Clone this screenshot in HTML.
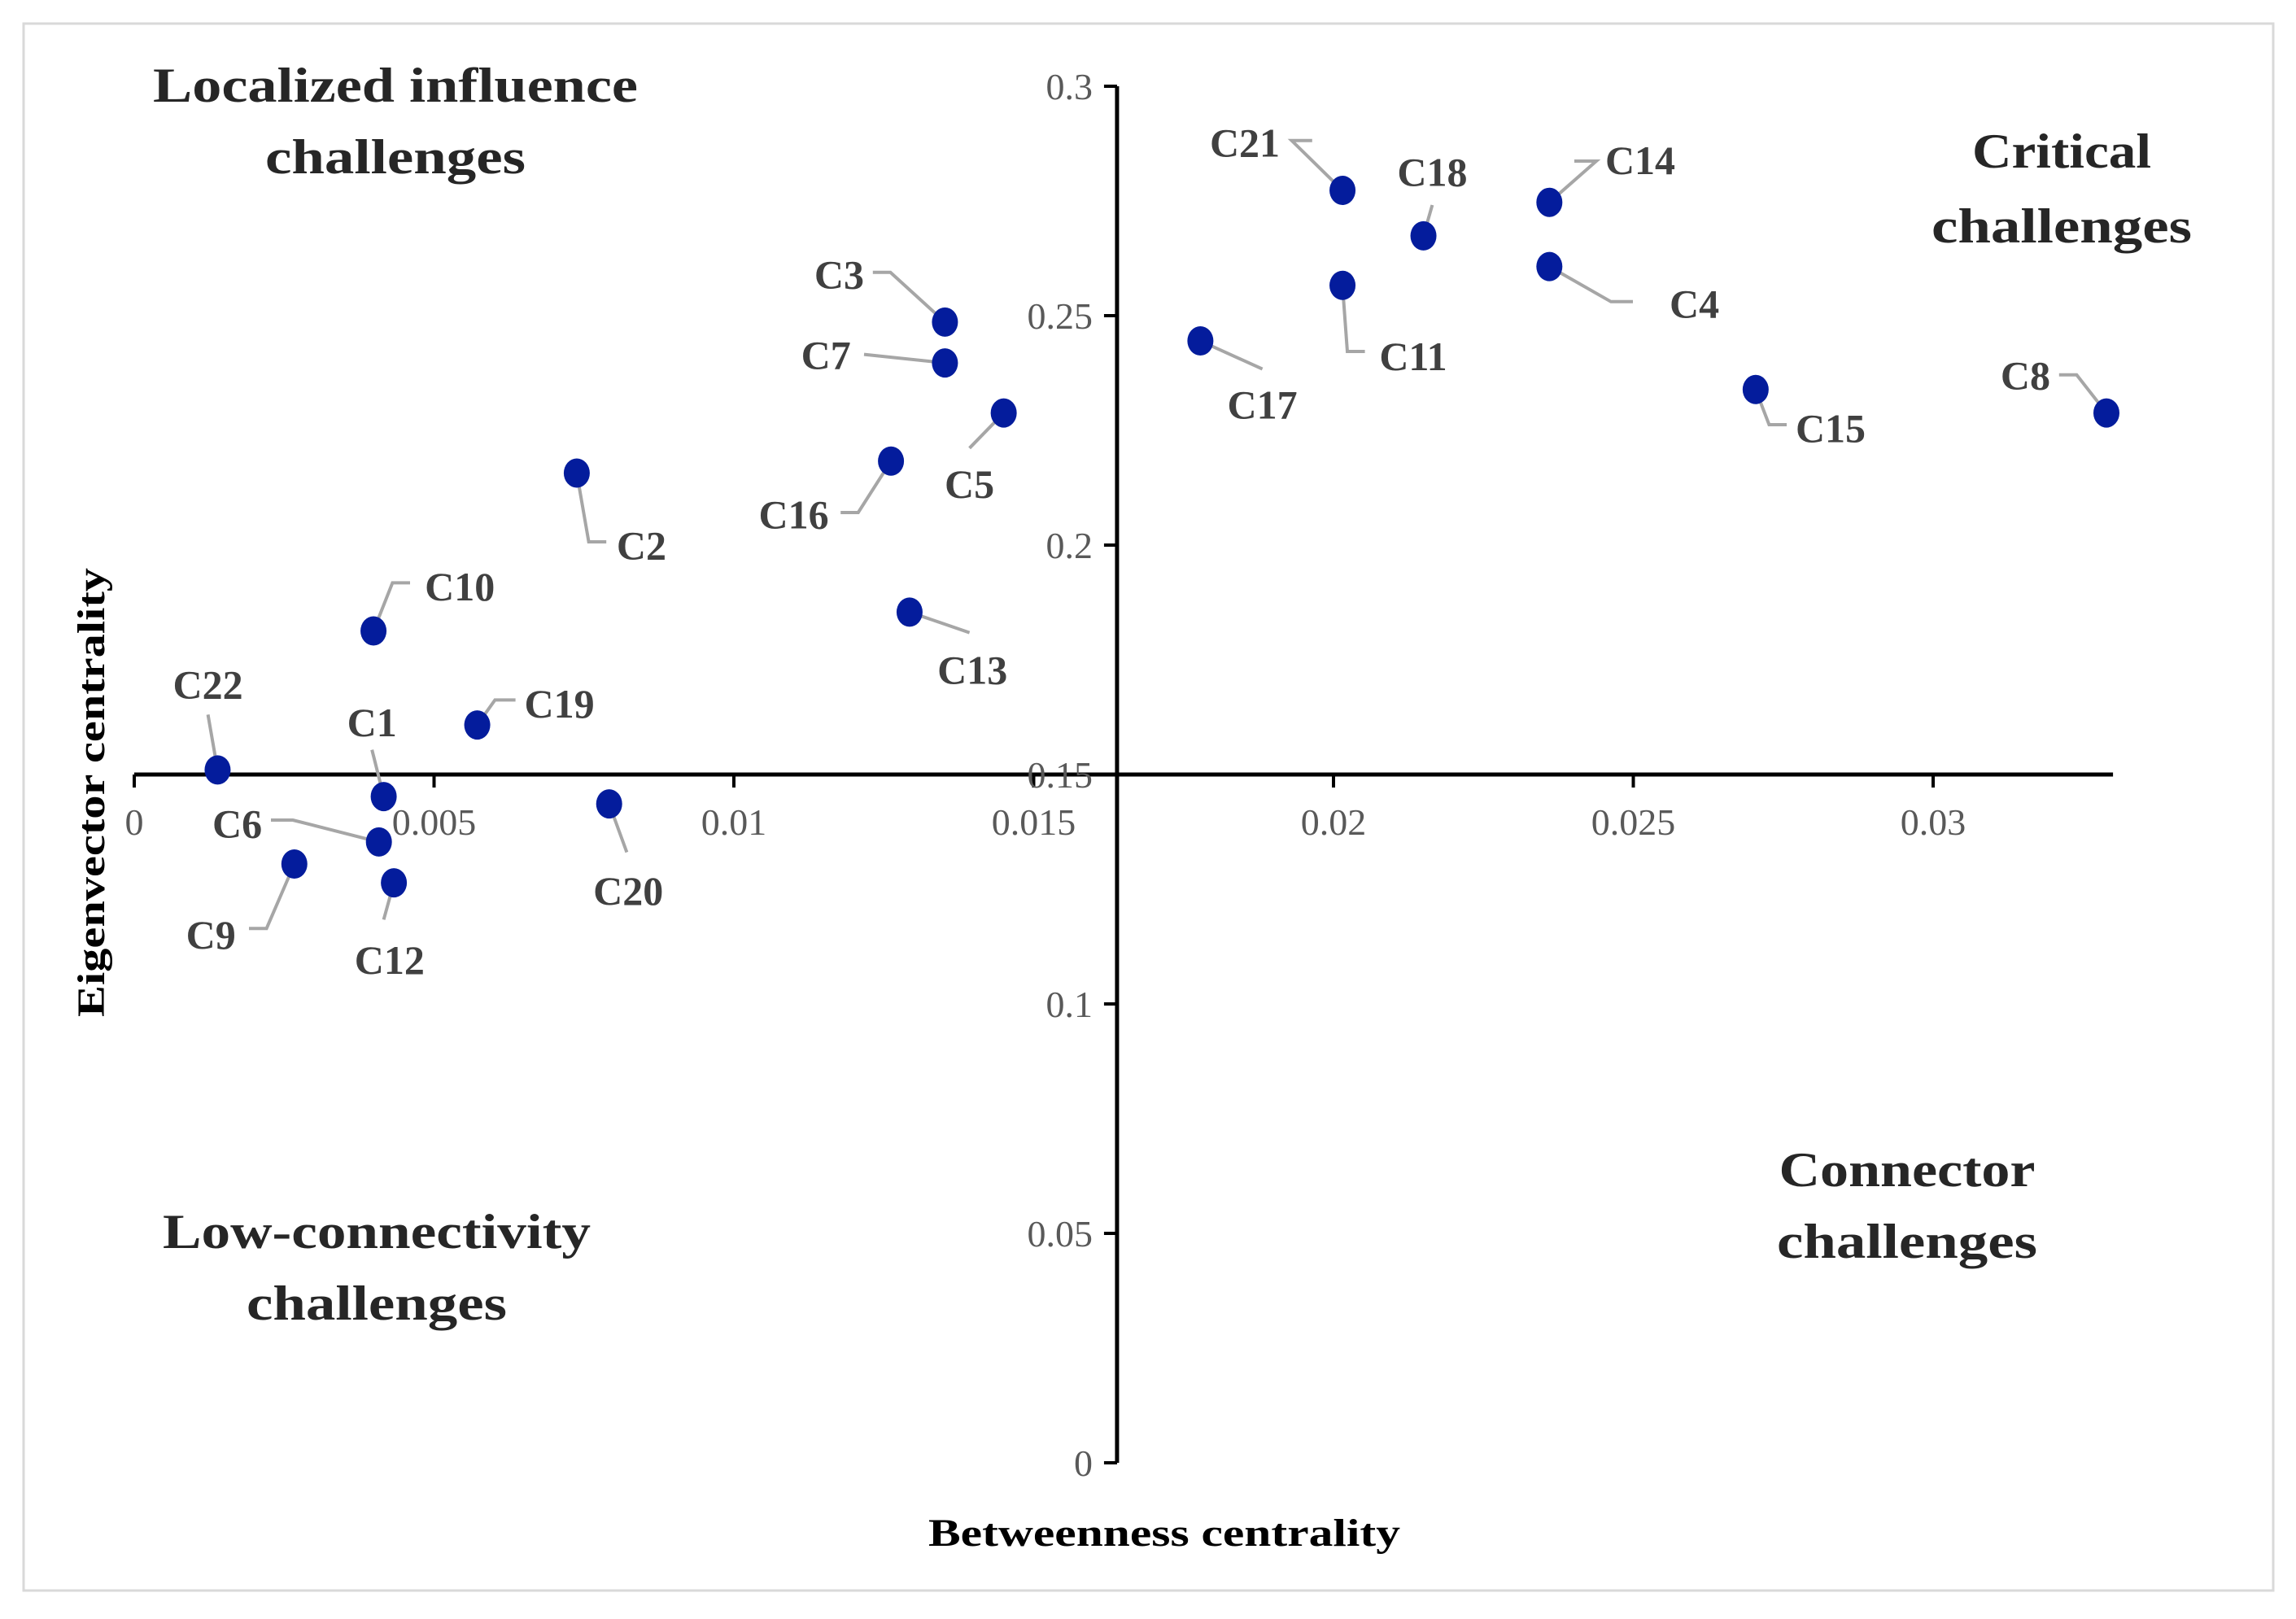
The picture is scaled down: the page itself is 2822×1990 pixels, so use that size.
<!DOCTYPE html>
<html><head><meta charset="utf-8"><style>
html,body{margin:0;padding:0;background:#fff}
svg{display:block}
text{font-family:"Liberation Serif",serif}
</style></head><body>
<svg id="chart" width="2822" height="1990" viewBox="0 0 2822 1990" xmlns="http://www.w3.org/2000/svg">
<rect x="29" y="29" width="2765" height="1926" fill="#fff" stroke="#d9d9d9" stroke-width="3"/>
<g id="axes"></g>
<g id="leaders"></g>
<g id="points"></g>
<g id="labels"></g>
<g font-weight="bold" font-size="60" fill="#262626" text-anchor="middle" lengthAdjust="spacingAndGlyphs">
<text x="486" y="125" textLength="596" lengthAdjust="spacingAndGlyphs">Localized influence</text>
<text x="486" y="213" textLength="320" lengthAdjust="spacingAndGlyphs">challenges</text>
<text x="2534" y="206" textLength="220" lengthAdjust="spacingAndGlyphs">Critical</text>
<text x="2534" y="298" textLength="320" lengthAdjust="spacingAndGlyphs">challenges</text>
<text x="2344" y="1458" textLength="315" lengthAdjust="spacingAndGlyphs">Connector</text>
<text x="2344" y="1546" textLength="320" lengthAdjust="spacingAndGlyphs">challenges</text>
<text x="463" y="1534" textLength="526" lengthAdjust="spacingAndGlyphs">Low-connectivity</text>
<text x="463" y="1622" textLength="320" lengthAdjust="spacingAndGlyphs">challenges</text>
</g>
<text x="1431" y="1900" text-anchor="middle" font-weight="bold" font-size="48" fill="#000" textLength="580" lengthAdjust="spacingAndGlyphs">Betweenness centrality</text>
<text transform="translate(128,974) rotate(-90)" text-anchor="middle" font-weight="bold" font-size="48" fill="#000" textLength="552" lengthAdjust="spacingAndGlyphs">Eigenvector centrality</text>
</svg>
<script>
const names=["C21","C18","C14","C4","C11","C17","C15","C8","C3","C7","C5","C16","C2","C13","C10","C19","C22","C1","C20","C6","C9","C12"];
const betweenness=[0.02015,0.0215,0.0236,0.0236,0.02015,0.01778,0.02704,0.03289,0.01352,0.01352,0.0145,0.01262,0.00738,0.01293,0.00399,0.00572,0.00139,0.00416,0.00792,0.00408,0.00267,0.00433];
const eigenvector=[0.2773,0.2674,0.2747,0.2607,0.2566,0.2445,0.2339,0.2288,0.2486,0.2397,0.2288,0.2183,0.2157,0.1854,0.1813,0.1608,0.1510,0.1452,0.1436,0.1353,0.1305,0.1264];
const xTicks=[0,0.005,0.01,0.015,0.02,0.025,0.03];
const xTickLabels=["0","0.005","0.01","0.015","0.02","0.025","0.03"];
const yTicks=[0,0.05,0.1,0.15,0.2,0.25,0.3];
const yTickLabels=["0","0.05","0.1","0.15","0.2","0.25","0.3"];
const S=1.8;
const labelPos={C21:[850,98,[[882,96],[896,96]]],C18:[978,118,[[978,140]]],C14:[1120,110,[[1090,110],[1075,110]]],C4:[1157,208,[[1100,206],[1115,206]]],C11:[965,244,[[920,240],[932,240]]],C17:[862,277,[[862,252]]],C15:[1250,293,[[1208,290],[1220,290]]],C8:[1383,257,[[1418,256],[1406,256]]],C3:[573,188,[[608,186],[596,186]]],C7:[564,243,[[590,242]]],C5:[662,331,[[662,306]]],C16:[542,352,[[586,350],[574,350]]],C2:[438,373,[[402,370],[414,370]]],C13:[664,458,[[662,432]]],C10:[314,401,[[268,398],[280,398]]],C19:[382,481,[[338,478],[352,478]]],C22:[142,468,[[142,488]]],C1:[254,494,[[254,512]]],C6:[162,563,[[200,560],[185,560]]],C9:[144,639,[[182,634],[170,634]]],C12:[266,656,[[262,628]]],C20:[429,609,[[428,582]]]};
const X0=165,XPER=73700,Y0=1798,YPER=5640;
const xs=v=>X0+v*XPER, ys=v=>Y0-v*YPER;
const NS="http://www.w3.org/2000/svg";
function mk(t,a,p){const e=document.createElementNS(NS,t);for(const k in a)e.setAttribute(k,a[k]);p.appendChild(e);return e;}
const axes=document.getElementById('axes');
const xAxisY=ys(0.15), yAxisX=xs(0.01639);
let l=mk('line',{x1:xs(0),x2:xs(0.033),y1:xAxisY,y2:xAxisY,stroke:'#000','stroke-width':5},axes);

l=mk('line',{x1:yAxisX,x2:yAxisX,y1:ys(0.3),y2:ys(0),stroke:'#000','stroke-width':5},axes);

xTicks.forEach((v,i)=>{
 const t=mk('line',{x1:xs(v),x2:xs(v),y1:xAxisY,y2:xAxisY+16,stroke:'#000','stroke-width':4},axes);
 
 const tx=mk('text',{x:xs(v),y:xAxisY+74,'text-anchor':'middle','font-size':46,fill:'#595959'},axes);
 
 tx.textContent=xTickLabels[i];
});
yTicks.forEach((v,i)=>{
 const t=mk('line',{x1:yAxisX-16,x2:yAxisX,y1:ys(v),y2:ys(v),stroke:'#000','stroke-width':4},axes);
 
 const tx=mk('text',{x:yAxisX-30,y:ys(v)+16,'text-anchor':'end','font-size':46,fill:'#595959'},axes);
 
 tx.textContent=yTickLabels[i];
});
const gL=document.getElementById('leaders'),gP=document.getElementById('points'),gT=document.getElementById('labels');
names.forEach((n,i)=>{
 const px=xs(betweenness[i]),py=ys(eigenvector[i]);
 const lp=labelPos[n];
 const pts=[[px,py]].concat(lp[2].map(p=>[p[0]*S,p[1]*S]));
 const pl=mk('polyline',{points:pts.map(p=>p.join(',')).join(' '),fill:'none',stroke:'#a6a6a6','stroke-width':4},gL);
 
 const c=mk('ellipse',{cx:px,cy:py,rx:16,ry:18,fill:'#041c9c'},gP);
 
 const t=mk('text',{x:lp[0]*S,y:lp[1]*S+16,'text-anchor':'middle','font-size':50,'font-weight':'bold',fill:'#404040'},gT);
 
 t.textContent=n;
});
</script>
</body></html>
